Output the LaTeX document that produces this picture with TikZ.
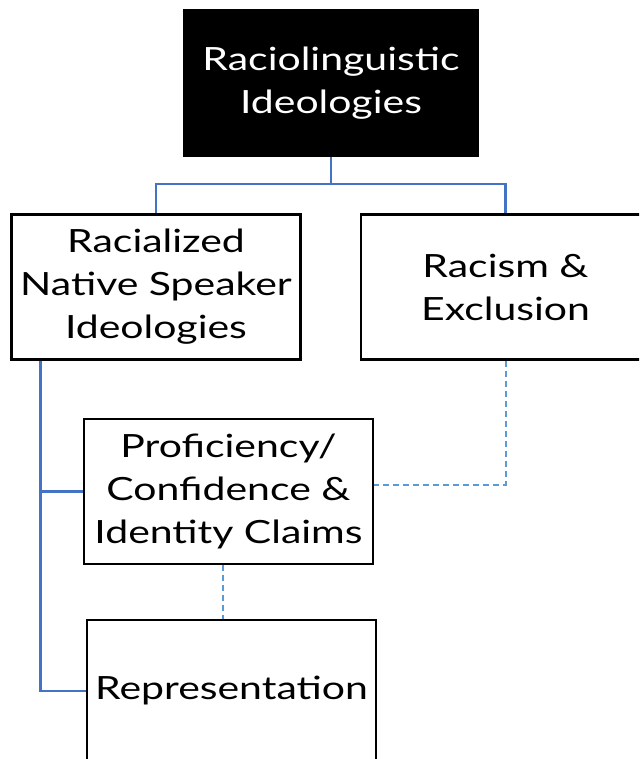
\documentclass[tikz,border=0pt]{standalone}
\usepackage{fontspec}
\setmainfont{Lato}[FakeStretch=1.28]
\usetikzlibrary{calc}

\definecolor{treeblue}{HTML}{4472C4}
\definecolor{linkblue}{HTML}{5B9BD5}

\begin{document}
\begin{tikzpicture}[x=1pt, y=-1pt,
    topic/.style={rectangle, draw=black, line width=2.5pt, fill=white, text=black,
        minimum width=289pt, minimum height=145pt, align=center, inner sep=0pt,
        font=\fontsize{32}{43}\selectfont},
    theme/.style={topic, fill=black, minimum width=294pt, minimum height=146pt, text=white},
    tree/.style={draw=treeblue, line width=2.5pt},
    link/.style={draw=linkblue, line width=2pt, dash pattern=on 6pt off 4pt}]
    \useasboundingbox (0,0) rectangle (639,759);
    \clip (0,0) rectangle (639,759);

    \node (root) at (331,83) [theme] {Raciolinguistic\\Ideologies};
    \node (native) at (156,287) [topic] {Racialized\\Native Speaker\\Ideologies};
    \node (racism) at (505.5,287) [topic] {Racism \&\\Exclusion};
    \node (prof) at (228.5,491.5) [topic] {Proficiency/\\Confidence \&\\Identity Claims};
    \node (repr) at (231.5,691) [topic, minimum height=142pt] {Representation};

    \coordinate (fork) at (331,184);
    \coordinate (trunk) at ([xshift=30pt]native.south west);

    \draw [tree] (root.south) -- (fork) -| (native.north);
    \draw [tree] (fork) -| (racism.north);
    \draw [tree] (trunk) |- (prof.west);
    \draw [tree] (trunk) |- (repr.west);

    \draw [link] (racism.south) |- ([yshift=7pt]prof.east);
    \draw [link] ([xshift=-6pt]prof.south) -- ([xshift=-6pt]prof.south |- repr.north);
\end{tikzpicture}
\end{document}
